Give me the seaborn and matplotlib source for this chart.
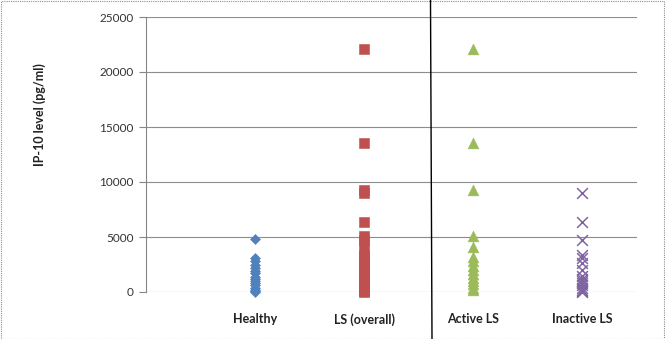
import matplotlib
matplotlib.use("Agg")
import matplotlib.pyplot as plt
from matplotlib.lines import Line2D
from matplotlib.patches import Rectangle
import seaborn as sns
import pandas as pd

# IP-10 serum levels (pg/ml) per group
categories = ["Healthy", "LS (overall)", "Active LS", "Inactive LS"]
healthy = [4800, 3100, 2800, 2500, 2200, 1900, 1700, 1400, 1200, 1000, 800, 600, 400, 200, 100, 0]
ls_overall = [22100, 13500, 9300, 9000, 6400, 5100, 4700, 4100, 3400, 3200, 3100, 2800, 2600,
              2400, 2000, 2000, 1600, 1500, 1300, 1200, 1000, 1000, 800, 700, 600, 400, 400,
              200, 200, 100, 0]
active_ls = [22100, 13500, 9300, 5100, 4100, 3200, 2800, 2400, 2000, 1600, 1300, 1000, 700, 400, 200]
inactive_ls = [9000, 6400, 4700, 3400, 3100, 2600, 2000, 1500, 1200, 1000, 800, 600, 400, 200, 100, 0]
y_ticks = [0, 5000, 10000, 15000, 20000, 25000]

series = [healthy, ls_overall, active_ls, inactive_ls]
colors = ["#4F81BD", "#C0504D", "#9BBB59", "#8064A2"]
markers = ["D", "s", "^", "x"]
sizes = [26, 52, 60, 60]

df = pd.concat(
    [pd.DataFrame({"group": c, "pos": i + 1, "level": vals})
     for i, (c, vals) in enumerate(zip(categories, series))],
    ignore_index=True,
)

sns.set_theme(style="white")
plt.rcParams["font.family"] = ["Lato", "DejaVu Sans"]

W, H = 665, 339
fig = plt.figure(figsize=(W / 100, H / 100), dpi=100)
ax = fig.add_axes([146 / W, 1 - 292 / H, (637 - 146) / W, (292 - 17) / H])

for i, c in enumerate(categories):
    sub = df[df["group"] == c]
    kw = dict(data=sub, x="pos", y="level", marker=markers[i], s=sizes[i], ax=ax,
              legend=False, zorder=3, clip_on=False)
    if markers[i] == "x":
        sns.scatterplot(color=colors[i], linewidth=1.1, **kw)
    else:
        sns.scatterplot(color=colors[i], edgecolor=colors[i], linewidth=0.4, **kw)

ax.set_xlim(0, 4.5)
ax.set_ylim(0, 25000)
ax.set_yticks(y_ticks)
ax.set_yticklabels([str(v) for v in y_ticks], fontsize=8.5, color="#333333")
ax.set_xticks(range(1, len(categories) + 1))
ax.set_xticklabels(categories, fontsize=9, fontweight="bold", color="#222222")
ax.tick_params(axis="x", length=0, pad=15)
ax.tick_params(axis="y", direction="out", length=5, width=0.8, color="#868686", pad=4, left=True)
ax.set_xlabel("")
ax.set_ylabel("")
ax.yaxis.grid(True, color="#8C8C8C", linewidth=0.8)
ax.set_axisbelow(True)
for side in ["top", "right", "bottom"]:
    ax.spines[side].set_visible(False)
ax.spines["left"].set_color("#868686")
ax.spines["left"].set_linewidth(0.8)

fig.text(40 / W, 1 - 115 / H, "IP-10 level (pg/ml)", rotation=90, ha="center", va="center",
         fontsize=9, fontweight="bold", color="#222222")

# separator between overall and subgroups
fig.add_artist(Line2D([430.5 / W, 432 / W], [1, 0], color="black", linewidth=1.0))
# outer frame
fig.add_artist(Rectangle((0.5 / W, 0.5 / H), 1 - 1.5 / W, 1 - 1.5 / H, transform=fig.transFigure,
                         fill=False, edgecolor="#8C8C8C", linewidth=0.8, linestyle=(0, (1, 1))))

fig.savefig("out.png", dpi=100)
